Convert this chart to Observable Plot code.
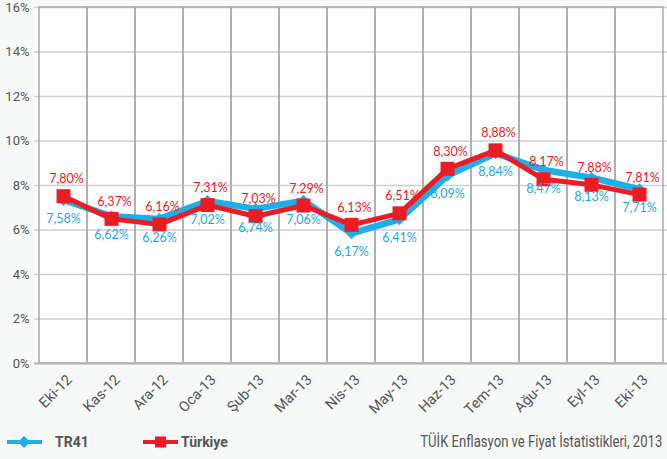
<!DOCTYPE html>
<html>
<head>
<meta charset="utf-8">
<script src="https://cdn.jsdelivr.net/npm/d3@7"></script>
<script src="https://cdn.jsdelivr.net/npm/@observablehq/plot@0.6"></script>
<style>
  html, body { margin: 0; padding: 0; background: #f7f8f8; }
  #wrap { width: 667px; height: 459px; overflow: hidden; position: relative; }
  #legend { position: relative; height: 34px; width: 667px; font-family: Roboto, sans-serif; color: #555; }
  #legend .item { position: absolute; top: 0; height: 34px; display: flex; align-items: center; }
  #legend .lab { font-weight: bold; font-size: 14px; }
  #legend .cap { position: absolute; right: 5px; top: 6px; font-size: 17px; line-height: 20px; white-space: nowrap; transform-origin: right center; }
</style>
</head>
<body>
<div id="wrap">
  <div id="chart"></div>
  <div id="legend"></div>
</div>
<script>
const months = ["Eki-12","Kas-12","Ara-12","Oca-13","Şub-13","Mar-13","Nis-13","May-13","Haz-13","Tem-13","Ağu-13","Eyl-13","Eki-13"];
const tr41 = [7.35, 6.62, 6.50, 7.30, 6.95, 7.32, 5.85, 6.48, 8.45, 9.45, 8.70, 8.35, 7.83];
const turkiye = [7.52, 6.50, 6.25, 7.12, 6.62, 7.10, 6.23, 6.75, 8.75, 9.58, 8.28, 8.03, 7.59];
const tr41Labels = ["7,58%","6,62%","6,26%","7,02%","6,74%","7,06%","6,17%","6,41%","8,09%","8,84%","8,47%","8,13%","7,71%"];
const turkiyeLabels = ["7,80%","6,37%","6,16%","7,31%","7,03%","7,29%","6,13%","6,51%","8,30%","8,88%","8,17%","7,88%","7,81%"];
const yTicks = [0, 2, 4, 6, 8, 10, 12, 14, 16];
const seriesNames = ["TR41", "Türkiye"];
const caption = "TÜİK Enflasyon ve Fiyat İstatistikleri, 2013";

const BLUE = "#1eaee8";
const RED = "#ed1c24";

const rows = months.map((m, i) => ({
  month: m, tr41: tr41[i], tr: turkiye[i], tr41Label: tr41Labels[i], trLabel: turkiyeLabels[i]
}));

const chart = Plot.plot({
  width: 667,
  height: 425,
  marginLeft: 34,
  marginRight: 0,
  marginTop: 7,
  marginBottom: 62,
  style: { background: "#f7f8f8", fontFamily: "Roboto, sans-serif" },
  x: { type: "band", domain: months, padding: 0, label: null },
  y: { domain: [0, 16], label: null },
  marks: [
    Plot.frame({ fill: "white", stroke: null }),
    Plot.ruleY(yTicks, { stroke: "#cfcfcf", strokeWidth: 1.5 }),
    Plot.barY(months, { x: d => d, y1: 0, y2: 16, fill: "none", stroke: "#ababab", strokeWidth: 1.5, inset: 0 }),
    Plot.ruleY([0], { stroke: "#b5b5b5", strokeWidth: 2 }),
    Plot.axisY({ ticks: yTicks, tickFormat: d => d + "%", tickSize: 0, tickPadding: 5, fontSize: 13, fill: "#555", label: null }),
    Plot.axisX({ tickRotate: -45, tickSize: 0, tickPadding: 4, fontSize: 14.5, fill: "#555", label: null, dx: 6, dy: 10 }),
    Plot.line(rows, { x: "month", y: "tr41", stroke: BLUE, strokeWidth: 6.5, strokeLinejoin: "miter" }),
    Plot.dot(rows, { x: "month", y: "tr41", symbol: "diamond2", r: 5.4, fill: BLUE, stroke: null }),
    Plot.line(rows, { x: "month", y: "tr", stroke: RED, strokeWidth: 5, strokeLinejoin: "miter" }),
    Plot.dot(rows, { x: "month", y: "tr", symbol: "square", r: 7.9, fill: RED, stroke: null }),
    Plot.text(rows, { x: "month", y: "tr", text: "trLabel", dy: -17, dx: 3, fill: RED, fontSize: 12.5, fontFamily: "Lato, 'Open Sans', sans-serif" }),
    Plot.text(rows, { x: "month", y: "tr41", text: "tr41Label", dy: 19, dx: 0, fill: "#1aa9e6", fontSize: 12.5, fontFamily: "Lato, 'Open Sans', sans-serif" })
  ]
});
document.getElementById("chart").appendChild(chart);

// Legend (below the SVG)
const legend = document.getElementById("legend");
function legendItem(left, name, color, marker) {
  const item = document.createElement("div");
  item.className = "item";
  item.style.left = left + "px";
  const svg = d3.create("svg").attr("width", 36).attr("height", 16).style("margin-right", marker === "diamond" ? "12px" : "2px");
  svg.append("line").attr("x1", 0).attr("x2", 35).attr("y1", 8).attr("y2", 8).attr("stroke", color).attr("stroke-width", 4);
  if (marker === "diamond") {
    svg.append("path").attr("d", "M17,2 L23,8 L17,14 L11,8 Z").attr("fill", color);
  } else {
    svg.append("rect").attr("x", 12).attr("y", 2.5).attr("width", 11).attr("height", 11).attr("fill", color);
  }
  item.appendChild(svg.node());
  const lab = document.createElement("span");
  lab.className = "lab";
  lab.textContent = name;
  item.appendChild(lab);
  legend.appendChild(item);
}
legendItem(7, seriesNames[0], BLUE, "diamond");
legendItem(143, seriesNames[1], RED, "square");
const cap = document.createElement("div");
cap.className = "cap";
cap.textContent = caption;
legend.appendChild(cap);
// squeeze the caption horizontally to the reference's condensed width
const natural = cap.getBoundingClientRect().width;
cap.style.transform = `scaleX(${Math.min(1, 242 / natural)})`;
</script>
</body>
</html>
